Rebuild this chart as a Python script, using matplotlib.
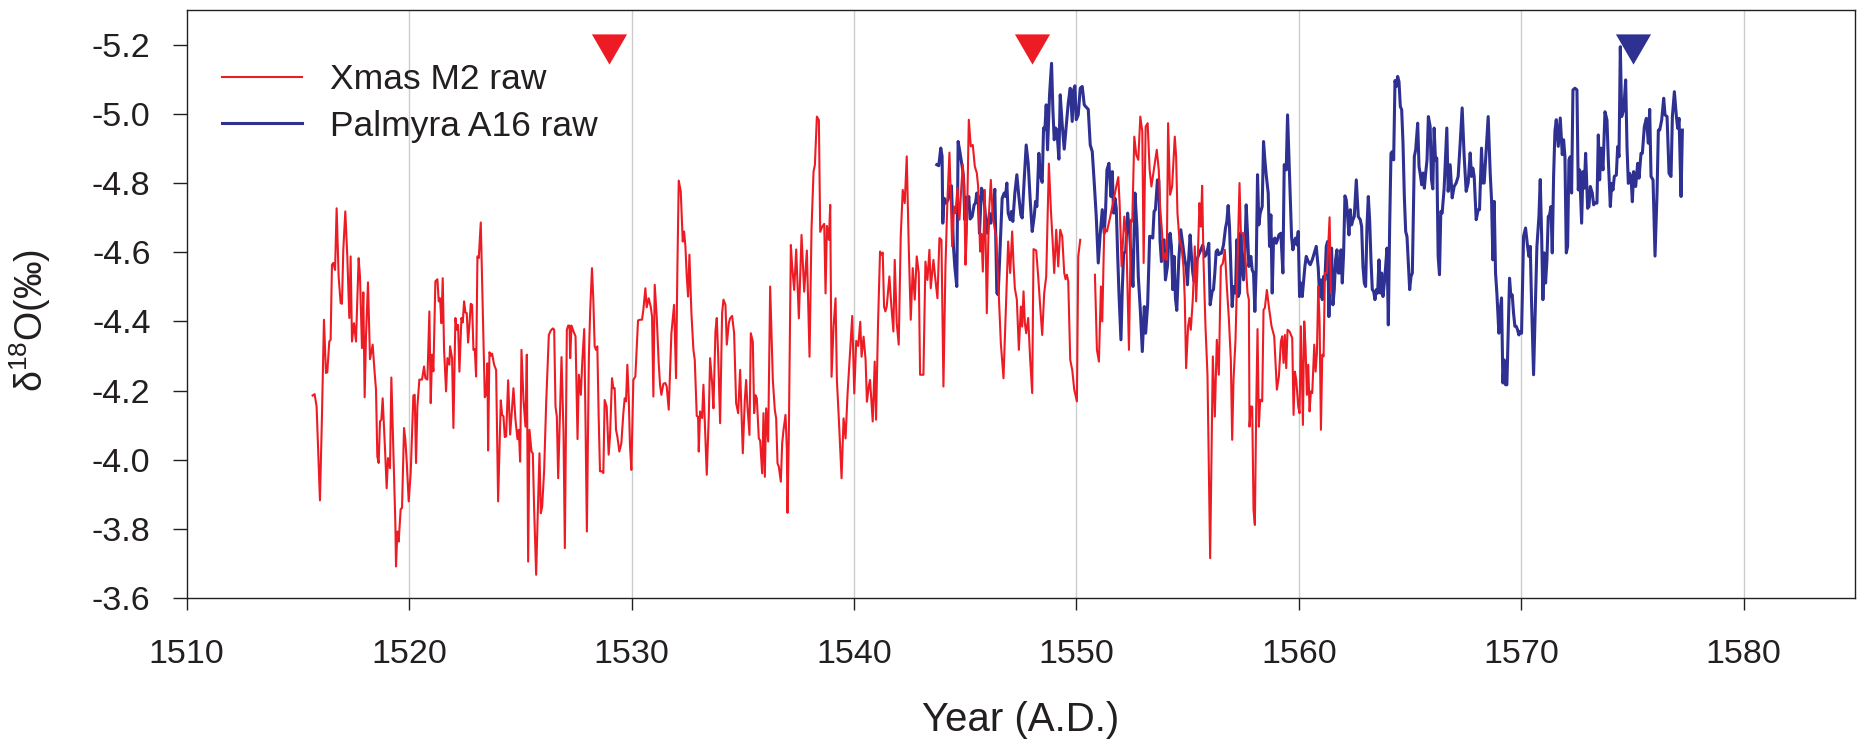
import numpy as np
import matplotlib
matplotlib.use("Agg")
import matplotlib.pyplot as plt
from matplotlib.lines import Line2D

# --- Xmas M2 raw d18O series (year A.D., per mil) ---
red_year = [
    1515.66, 1515.75, 1515.84, 1515.99, 1516.08, 1516.17, 1516.26, 1516.32, 1516.41, 1516.47,
    1516.53, 1516.59, 1516.67, 1516.74, 1516.83, 1516.92, 1516.98, 1517.04, 1517.13, 1517.22,
    1517.31, 1517.37, 1517.43, 1517.52, 1517.61, 1517.73, 1517.79, 1517.88, 1517.94, 1518.00,
    1518.06, 1518.15, 1518.24, 1518.36, 1518.45, 1518.51, 1518.57, 1518.63, 1518.69, 1518.75,
    1518.81, 1518.87, 1518.93, 1518.99, 1519.05, 1519.14, 1519.20, 1519.29, 1519.38, 1519.41,
    1519.47, 1519.53, 1519.62, 1519.68, 1519.77, 1519.83, 1519.89, 1519.98, 1520.07, 1520.19,
    1520.25, 1520.31, 1520.37, 1520.46, 1520.58, 1520.67, 1520.73, 1520.82, 1520.91, 1520.97,
    1521.03, 1521.09, 1521.18, 1521.27, 1521.33, 1521.39, 1521.45, 1521.51, 1521.57, 1521.66,
    1521.72, 1521.81,
    1521.84, 1521.93, 1521.99, 1522.08, 1522.14, 1522.20, 1522.26, 1522.35, 1522.41, 1522.47,
    1522.53, 1522.59, 1522.65, 1522.71, 1522.77, 1522.83, 1522.89, 1522.95, 1523.01, 1523.07,
    1523.13, 1523.22, 1523.31, 1523.40, 1523.46, 1523.52, 1523.55, 1523.61, 1523.67, 1523.73,
    1523.82, 1523.91, 1524.00, 1524.12, 1524.18, 1524.24, 1524.30, 1524.36, 1524.45, 1524.54,
    1524.69, 1524.78, 1524.87, 1524.93, 1524.99, 1525.05, 1525.14, 1525.23, 1525.29, 1525.35,
    1525.41, 1525.50, 1525.56, 1525.62, 1525.71, 1525.77, 1525.86, 1525.92, 1525.98, 1526.07,
    1526.16, 1526.28, 1526.37, 1526.46, 1526.52, 1526.58, 1526.64, 1526.70, 1526.85, 1526.94,
    1527.00, 1527.09, 1527.15, 1527.21, 1527.24, 1527.30, 1527.39, 1527.48, 1527.57, 1527.63,
    1527.72, 1527.78, 1527.87, 1527.93, 1527.99, 1528.08, 1528.14,
    1528.22, 1528.28, 1528.34, 1528.40, 1528.46, 1528.52, 1528.58, 1528.67, 1528.73, 1528.79,
    1528.88, 1528.97, 1529.03, 1529.12, 1529.18, 1529.24, 1529.30, 1529.36, 1529.45, 1529.54,
    1529.63, 1529.69, 1529.75, 1529.81, 1529.87, 1529.93, 1529.99, 1530.08, 1530.17, 1530.29,
    1530.38, 1530.47, 1530.53, 1530.62, 1530.68, 1530.77, 1530.86, 1530.92, 1530.98, 1531.04,
    1531.13, 1531.22, 1531.28, 1531.34, 1531.43, 1531.52, 1531.58, 1531.67, 1531.79, 1531.91,
    1532.00, 1532.06, 1532.12, 1532.21, 1532.30, 1532.36, 1532.42, 1532.48, 1532.54, 1532.60,
    1532.69, 1532.78, 1532.84, 1532.93, 1532.99, 1533.02, 1533.08, 1533.17, 1533.23, 1533.32,
    1533.38, 1533.47, 1533.53, 1533.62, 1533.68, 1533.77, 1533.83, 1533.89, 1533.98, 1534.07,
    1534.13, 1534.22, 1534.28, 1534.37,
    1534.43, 1534.52, 1534.61, 1534.70, 1534.79, 1534.88, 1535.00, 1535.09, 1535.15, 1535.21,
    1535.30, 1535.36, 1535.45, 1535.51, 1535.57, 1535.63, 1535.72, 1535.78, 1535.87, 1535.93,
    1535.99, 1536.05, 1536.14, 1536.23, 1536.35, 1536.44, 1536.50, 1536.56, 1536.62, 1536.71,
    1536.77, 1536.83, 1536.92, 1536.98, 1537.01, 1537.07, 1537.16, 1537.22, 1537.31, 1537.40,
    1537.52, 1537.64, 1537.76, 1537.88, 1538.00, 1538.09, 1538.18, 1538.24, 1538.33, 1538.42,
    1538.48, 1538.57, 1538.66, 1538.72, 1538.78, 1538.87, 1538.93, 1538.99, 1539.08, 1539.17,
    1539.23, 1539.32, 1539.44, 1539.53, 1539.62, 1539.71, 1539.83, 1539.92, 1540.01, 1540.10,
    1540.19, 1540.28, 1540.34, 1540.43, 1540.52, 1540.58, 1540.67,
    1540.72, 1540.84, 1540.93, 1540.99, 1541.08, 1541.17, 1541.23, 1541.29, 1541.35, 1541.41,
    1541.47, 1541.59, 1541.68, 1541.77, 1541.83, 1541.92, 1542.01, 1542.10, 1542.19, 1542.28,
    1542.37, 1542.46, 1542.55, 1542.64, 1542.73, 1542.82, 1542.91, 1542.97, 1543.12, 1543.21,
    1543.30, 1543.39, 1543.45, 1543.57, 1543.66, 1543.75, 1543.84, 1543.93, 1544.02, 1544.11,
    1544.20, 1544.29, 1544.35, 1544.41, 1544.50, 1544.56, 1544.65, 1544.74, 1544.83, 1544.89,
    1544.95, 1545.01, 1545.07, 1545.16, 1545.25, 1545.34, 1545.43, 1545.52, 1545.58, 1545.67,
    1545.73, 1545.79, 1545.88, 1545.97, 1546.06, 1546.15, 1546.24, 1546.33, 1546.39, 1546.48,
    1546.60, 1546.72, 1546.81, 1546.93,
    1547.02, 1547.11, 1547.17, 1547.23, 1547.32, 1547.41, 1547.50, 1547.56, 1547.62, 1547.68,
    1547.74, 1547.83, 1547.92, 1548.01, 1548.07, 1548.19, 1548.28, 1548.37, 1548.46, 1548.55,
    1548.64, 1548.76, 1548.85, 1548.94, 1549.00, 1549.09, 1549.18, 1549.27, 1549.36, 1549.45,
    1549.51, 1549.57, 1549.63, 1549.72, 1549.81, 1549.90, 1550.02, 1550.08, 1550.17, 1550.50,
    1550.83, 1550.92, 1551.01, 1551.10, 1551.16, 1551.25, 1551.37, 1551.52, 1551.67, 1551.79,
    1551.88, 1551.94, 1552.03, 1552.15, 1552.24, 1552.36, 1552.45, 1552.51, 1552.60, 1552.69,
    1552.78, 1552.87, 1552.96, 1553.02, 1553.11, 1553.20, 1553.29,
    1553.37, 1553.61, 1553.70, 1553.76, 1553.85, 1553.91, 1554.00, 1554.06, 1554.12, 1554.21,
    1554.30, 1554.42, 1554.48, 1554.54, 1554.63, 1554.72, 1554.81, 1554.87, 1554.93, 1555.02,
    1555.08, 1555.14, 1555.23, 1555.32, 1555.38, 1555.44, 1555.53, 1555.59, 1555.65, 1555.71,
    1555.80, 1555.89, 1556.01, 1556.07, 1556.13, 1556.22, 1556.31, 1556.40, 1556.49, 1556.58,
    1556.67, 1556.76, 1556.85, 1556.94, 1557.00, 1557.06, 1557.15, 1557.24, 1557.33, 1557.39,
    1557.51, 1557.60, 1557.69, 1557.75, 1557.78, 1557.84, 1557.90, 1557.96, 1558.02, 1558.08,
    1558.14, 1558.20, 1558.26, 1558.35, 1558.41, 1558.47, 1558.56, 1558.65, 1558.77, 1558.89,
    1559.01, 1559.10, 1559.19, 1559.25, 1559.31, 1559.37, 1559.43, 1559.49, 1559.58,
    1559.70, 1559.76, 1559.82, 1559.88, 1559.97, 1560.03, 1560.09, 1560.18, 1560.24, 1560.30,
    1560.36, 1560.42, 1560.48, 1560.54, 1560.60, 1560.69, 1560.75, 1560.81, 1560.87, 1560.93,
    1560.99, 1561.05, 1561.11, 1561.17, 1561.26, 1561.38, 1561.44,
]
red_d18o = [
    -4.186, -4.190, -4.154, -3.883, -4.125, -4.405, -4.251, -4.253, -4.342, -4.347,
    -4.564, -4.569, -4.549, -4.727, -4.530, -4.453, -4.451, -4.607, -4.718, -4.588,
    -4.410, -4.588, -4.342, -4.395, -4.342, -4.583, -4.530, -4.323, -4.484, -4.181,
    -4.357, -4.513, -4.291, -4.333, -4.251, -4.203, -4.010, -3.991, -4.111, -4.116,
    -4.178, -4.096, -4.010, -3.918, -4.005, -3.976, -4.238, -4.029, -3.817, -3.692,
    -3.793, -3.764, -3.858, -3.861, -4.092, -4.058, -3.996, -3.880, -3.962, -4.186,
    -4.188, -3.991, -4.154, -4.232, -4.232, -4.270, -4.236, -4.232, -4.429, -4.164,
    -4.304, -4.256, -4.516, -4.522, -4.458, -4.467, -4.395, -4.525, -4.318, -4.198,
    -4.294, -4.275,
    -4.328, -4.294, -4.092, -4.410, -4.376, -4.390, -4.255, -4.410, -4.397, -4.458,
    -4.426, -4.424, -4.339, -4.390, -4.451, -4.448, -4.318, -4.320, -4.241, -4.588,
    -4.583, -4.686, -4.434, -4.181, -4.188, -4.279, -4.027, -4.311, -4.301, -4.307,
    -4.275, -4.260, -3.880, -4.172, -4.130, -4.126, -4.066, -4.068, -4.230, -4.073,
    -4.207, -4.116, -4.060, -4.087, -3.995, -4.318, -4.173, -4.096, -4.304, -3.706,
    -4.087, -4.024, -4.019, -3.856, -3.668, -3.817, -4.019, -3.846, -3.865, -3.971,
    -4.164, -4.361, -4.374, -4.380, -4.376, -4.154, -4.125, -3.947, -4.297, -4.077,
    -3.745, -4.376, -4.388, -4.388, -4.294, -4.388, -4.371, -4.357, -4.060, -4.246,
    -4.188, -4.280, -4.378, -4.106, -3.793, -4.299, -4.434,
    -4.554, -4.463, -4.328, -4.318, -4.328, -4.125, -3.967, -3.967, -3.962, -4.173,
    -4.154, -4.015, -4.068, -4.236, -4.207, -4.207, -4.087, -4.068, -4.024, -4.048,
    -4.135, -4.178, -4.169, -4.275, -4.183, -4.039, -3.971, -4.231, -4.241, -4.403,
    -4.405, -4.405, -4.434, -4.496, -4.441, -4.467, -4.443, -4.414, -4.183, -4.506,
    -4.414, -4.279, -4.217, -4.188, -4.220, -4.222, -4.212, -4.145, -4.366, -4.448,
    -4.236, -4.559, -4.807, -4.776, -4.631, -4.660, -4.617, -4.530, -4.472, -4.593,
    -4.424, -4.318, -4.289, -4.127, -4.125, -4.024, -4.140, -4.121, -4.217, -4.058,
    -3.957, -4.125, -4.294, -4.222, -4.149, -4.371, -4.410, -4.308, -4.106, -4.424,
    -4.463, -4.448, -4.333, -4.395,
    -4.409, -4.416, -4.366, -4.164, -4.135, -4.260, -4.019, -4.173, -4.231, -4.154,
    -4.072, -4.366, -4.342, -4.135, -4.187, -4.178, -4.062, -4.056, -3.961, -4.135,
    -3.951, -4.149, -4.053, -4.501, -4.231, -4.144, -4.120, -3.990, -3.980, -3.937,
    -4.048, -4.086, -4.130, -4.033, -3.847, -4.077, -4.621, -4.558, -4.491, -4.608,
    -4.409, -4.650, -4.486, -4.605, -4.298, -4.669, -4.833, -4.852, -4.992, -4.982,
    -4.659, -4.674, -4.682, -4.481, -4.676, -4.636, -4.737, -4.240, -4.385, -4.467,
    -4.231, -4.115, -3.947, -4.120, -4.062, -4.192, -4.322, -4.416, -4.192, -4.344,
    -4.329, -4.399, -4.298, -4.356, -4.289, -4.168, -4.216,
    -4.231, -4.111, -4.284, -4.116, -4.395, -4.602, -4.593, -4.599, -4.443, -4.429,
    -4.443, -4.530, -4.443, -4.371, -4.578, -4.395, -4.333, -4.646, -4.780, -4.742,
    -4.877, -4.617, -4.405, -4.554, -4.463, -4.588, -4.540, -4.246, -4.246, -4.573,
    -4.520, -4.607, -4.496, -4.578, -4.520, -4.467, -4.641, -4.636, -4.212, -4.559,
    -4.752, -4.888, -4.761, -4.617, -4.732, -4.713, -4.785, -4.694, -4.795, -4.853,
    -4.795, -4.564, -4.655, -4.983, -4.906, -4.910, -4.848, -4.829, -4.790, -4.602,
    -4.653, -4.544, -4.780, -4.424, -4.703, -4.809, -4.703, -4.665, -4.646, -4.520,
    -4.337, -4.236, -4.405, -4.631,
    -4.540, -4.660, -4.567, -4.496, -4.463, -4.318, -4.443, -4.385, -4.487, -4.395,
    -4.366, -4.410, -4.289, -4.193, -4.609, -4.605, -4.530, -4.443, -4.361, -4.482,
    -4.530, -4.856, -4.723, -4.617, -4.540, -4.665, -4.559, -4.665, -4.646, -4.540,
    -4.522, -4.535, -4.516, -4.289, -4.260, -4.203, -4.169, -4.588, -4.636, np.nan,
    -4.535, -4.318, -4.284, -4.501, -4.400, -4.670, -4.660, -4.703, -4.752, -4.790,
    -4.817, -4.742, -4.559, -4.703, -4.646, -4.318, -4.694, -4.689, -4.934, -4.881,
    -4.867, -4.992, -4.949, -4.569, -4.963, -4.973, -4.838,
    -4.790, -4.896, -4.838, -4.732, -4.655, -4.578, -4.597, -4.578, -4.973, -4.766,
    -4.790, -4.934, -4.877, -4.713, -4.636, -4.617, -4.559, -4.463, -4.265, -4.386,
    -4.410, -4.376, -4.463, -4.617, -4.458, -4.554, -4.742, -4.674, -4.792, -4.578,
    -4.386, -4.246, -3.716, -4.000, -4.299, -4.125, -4.347, -4.246, -4.559, -4.568,
    -4.607, -4.501, -4.410, -4.289, -4.058, -4.231, -4.347, -4.568, -4.800, -4.655,
    -4.655, -4.578, -4.482, -4.463, -4.096, -4.154, -4.154, -3.856, -3.812, -4.145,
    -4.378, -4.096, -4.174, -4.169, -4.434, -4.439, -4.491, -4.443, -4.386, -4.357,
    -4.203, -4.241, -4.342, -4.357, -4.280, -4.361, -4.265, -4.376, -4.371,
    -4.352, -4.130, -4.255, -4.231, -4.154, -4.135, -4.386, -4.101, -4.400, -4.323,
    -4.188, -4.275, -4.140, -4.198, -4.193, -4.333, -4.255, -4.309, -4.501, -4.400,
    -4.087, -4.304, -4.299, -4.540, -4.540, -4.701, -4.482,
]

# --- Palmyra A16 raw d18O series (year A.D., per mil) ---
blue_year = [
    1543.72, 1543.81, 1543.90, 1543.96, 1543.99, 1544.05, 1544.14, 1544.23, 1544.32, 1544.38,
    1544.47, 1544.53, 1544.62, 1544.68, 1544.77, 1544.86, 1544.92, 1544.98, 1545.04, 1545.10,
    1545.16, 1545.22, 1545.31, 1545.40, 1545.46, 1545.52, 1545.58, 1545.64, 1545.73, 1545.82,
    1545.91, 1546.00, 1546.09, 1546.15, 1546.24, 1546.33, 1546.42, 1546.48, 1546.57, 1546.66,
    1546.75, 1546.81, 1546.87, 1546.93,
    1547.02, 1547.08, 1547.14, 1547.23, 1547.32, 1547.41, 1547.50, 1547.56, 1547.65, 1547.74,
    1547.83, 1547.92, 1548.01, 1548.10, 1548.16, 1548.22, 1548.31, 1548.37, 1548.46, 1548.52,
    1548.58, 1548.64, 1548.70, 1548.79, 1548.88, 1548.94, 1549.00, 1549.06, 1549.12, 1549.21,
    1549.27, 1549.36, 1549.45, 1549.54, 1549.63, 1549.72, 1549.81, 1549.87, 1549.93, 1549.99,
    1550.08, 1550.17, 1550.26, 1550.35, 1550.44, 1550.53, 1550.62, 1550.71, 1550.80, 1550.89,
    1550.98, 1551.07, 1551.16, 1551.25, 1551.31, 1551.37, 1551.46, 1551.55, 1551.61, 1551.67,
    1551.73, 1551.79, 1551.85, 1551.91, 1552.00, 1552.06, 1552.12, 1552.21, 1552.30, 1552.39,
    1552.48, 1552.54, 1552.63, 1552.72, 1552.78, 1552.87, 1552.96, 1553.05, 1553.11, 1553.20,
    1553.29,
    1553.37, 1553.43, 1553.49, 1553.55, 1553.64, 1553.70, 1553.76, 1553.82, 1553.88, 1553.94,
    1554.00, 1554.09, 1554.15, 1554.21, 1554.27, 1554.33, 1554.39, 1554.45, 1554.51, 1554.60,
    1554.69, 1554.78, 1554.87, 1554.93, 1554.99, 1555.05, 1555.11, 1555.17, 1555.23, 1555.29,
    1555.35, 1555.41, 1555.50, 1555.59, 1555.68, 1555.77, 1555.86, 1555.95, 1556.01, 1556.10,
    1556.16, 1556.22, 1556.28, 1556.34, 1556.40, 1556.46, 1556.52, 1556.61, 1556.70, 1556.76,
    1556.82, 1556.88, 1556.94, 1557.00, 1557.06, 1557.15, 1557.21, 1557.27, 1557.33, 1557.39,
    1557.45, 1557.51, 1557.57, 1557.63, 1557.69, 1557.75, 1557.84, 1557.90, 1557.96, 1558.02,
    1558.08, 1558.14, 1558.20, 1558.26, 1558.35, 1558.41, 1558.47, 1558.53, 1558.62, 1558.68,
    1558.74, 1558.80, 1558.86, 1558.92, 1558.98, 1559.04, 1559.10, 1559.19, 1559.28, 1559.34,
    1559.43, 1559.49,
    1559.67, 1559.73, 1559.79, 1559.85, 1559.91, 1559.97, 1560.03, 1560.09, 1560.15, 1560.21,
    1560.27, 1560.33, 1560.39, 1560.45, 1560.51, 1560.60, 1560.69, 1560.78, 1560.87, 1560.93,
    1560.99, 1561.05, 1561.11, 1561.17, 1561.23, 1561.29, 1561.35, 1561.41, 1561.47, 1561.53,
    1561.59, 1561.65, 1561.71, 1561.77, 1561.83, 1561.89, 1561.95, 1562.01, 1562.07, 1562.13,
    1562.19, 1562.25, 1562.31, 1562.37, 1562.43, 1562.49, 1562.58, 1562.67, 1562.76, 1562.82,
    1562.88, 1562.94, 1563.00, 1563.06, 1563.12, 1563.18, 1563.24, 1563.30, 1563.36, 1563.42,
    1563.48, 1563.54, 1563.60, 1563.66, 1563.72, 1563.78, 1563.84, 1563.90, 1563.96, 1564.02,
    1564.08, 1564.14, 1564.20, 1564.26, 1564.32, 1564.38, 1564.44, 1564.50, 1564.56, 1564.62,
    1564.68, 1564.74, 1564.80, 1564.86, 1564.92, 1564.98, 1565.04, 1565.10, 1565.19, 1565.25,
    1565.34, 1565.40, 1565.46, 1565.52, 1565.58, 1565.64, 1565.70, 1565.76, 1565.82,
    1565.90, 1565.96, 1566.02, 1566.08, 1566.14, 1566.20, 1566.26, 1566.32, 1566.38, 1566.44,
    1566.53, 1566.65, 1566.71, 1566.80, 1566.89, 1566.98, 1567.07, 1567.16, 1567.25, 1567.34,
    1567.43, 1567.52, 1567.61, 1567.70, 1567.76, 1567.82, 1567.88, 1567.97, 1568.06, 1568.12,
    1568.21, 1568.27, 1568.33, 1568.42, 1568.51, 1568.60, 1568.66, 1568.72, 1568.78, 1568.84,
    1568.90, 1568.99, 1569.05, 1569.11, 1569.17, 1569.23, 1569.29, 1569.35, 1569.41, 1569.47,
    1569.53, 1569.59, 1569.65, 1569.71, 1569.77, 1569.83, 1569.89, 1569.95, 1570.01, 1570.10,
    1570.19, 1570.28, 1570.34, 1570.40, 1570.46, 1570.55, 1570.64, 1570.70, 1570.79, 1570.85,
    1570.91, 1570.97, 1571.03, 1571.09, 1571.15, 1571.21, 1571.27, 1571.33, 1571.39, 1571.45,
    1571.51, 1571.57, 1571.66, 1571.75, 1571.84, 1571.90, 1571.96, 1572.02, 1572.08, 1572.14,
    1572.20, 1572.26, 1572.32, 1572.41, 1572.50, 1572.56, 1572.62, 1572.71, 1572.77, 1572.83,
    1572.89, 1572.98, 1573.04, 1573.10, 1573.19, 1573.25, 1573.31, 1573.40, 1573.46, 1573.52,
    1573.58, 1573.67, 1573.76, 1573.85, 1573.91, 1574.00, 1574.06, 1574.12, 1574.18, 1574.27,
    1574.33, 1574.39, 1574.45, 1574.51, 1574.60, 1574.69, 1574.75, 1574.81, 1574.87, 1574.93,
    1574.99, 1575.05, 1575.14, 1575.23, 1575.29, 1575.38, 1575.44, 1575.53, 1575.62, 1575.71,
    1575.77, 1575.83, 1575.92, 1576.01, 1576.10, 1576.16, 1576.22, 1576.31, 1576.40, 1576.46,
    1576.55, 1576.64, 1576.73, 1576.79, 1576.88, 1576.97, 1577.03, 1577.09, 1577.18, 1577.24,
]
blue_d18o = [
    -4.853, -4.850, -4.901, -4.877, -4.684, -4.756, -4.742, -4.752, -4.790, -4.792,
    -4.617, -4.559, -4.501, -4.920, -4.886, -4.848, -4.819, -4.694, -4.759, -4.742,
    -4.761, -4.696, -4.703, -4.737, -4.742, -4.771, -4.761, -4.655, -4.785, -4.771,
    -4.703, -4.655, -4.713, -4.684, -4.713, -4.782, -4.482, -4.477, -4.617, -4.756,
    -4.771, -4.761, -4.800, -4.713,
    -4.694, -4.718, -4.689, -4.771, -4.824, -4.761, -4.708, -4.699, -4.809, -4.910,
    -4.857, -4.752, -4.660, -4.703, -4.747, -4.732, -4.886, -4.824, -4.802, -4.959,
    -4.954, -5.026, -4.896, -5.055, -5.146, -5.012, -4.925, -4.959, -4.954, -4.869,
    -5.055, -4.968, -4.898, -4.963, -5.031, -5.074, -4.978, -5.069, -5.081, -4.983,
    -4.997, -5.074, -5.079, -5.026, -5.019, -5.013, -4.910, -4.891, -4.800, -4.703,
    -4.569, -4.655, -4.723, -4.655, -4.723, -4.838, -4.857, -4.761, -4.833, -4.713,
    -4.756, -4.727, -4.597, -4.482, -4.347, -4.492, -4.597, -4.602, -4.713, -4.655,
    -4.559, -4.501, -4.771, -4.670, -4.530, -4.434, -4.313, -4.443, -4.366, -4.448,
    -4.646,
    -4.645, -4.641, -4.718, -4.723, -4.809, -4.809, -4.631, -4.573, -4.631, -4.636,
    -4.520, -4.559, -4.636, -4.655, -4.617, -4.492, -4.588, -4.467, -4.432, -4.578,
    -4.665, -4.621, -4.578, -4.559, -4.506, -4.588, -4.650, -4.588, -4.540, -4.516,
    -4.540, -4.578, -4.593, -4.607, -4.621, -4.588, -4.597, -4.626, -4.448, -4.487,
    -4.492, -4.540, -4.602, -4.607, -4.593, -4.597, -4.597, -4.621, -4.670, -4.689,
    -4.735, -4.674, -4.559, -4.443, -4.501, -4.482, -4.636, -4.472, -4.482, -4.657,
    -4.559, -4.520, -4.597, -4.737, -4.655, -4.559, -4.588, -4.549, -4.540, -4.429,
    -4.554, -4.824, -4.679, -4.713, -4.732, -4.920, -4.867, -4.824, -4.771, -4.617,
    -4.708, -4.482, -4.636, -4.641, -4.626, -4.636, -4.650, -4.655, -4.540, -4.853,
    -4.838, -4.997,
    -4.645, -4.607, -4.631, -4.641, -4.621, -4.660, -4.472, -4.511, -4.472, -4.516,
    -4.559, -4.588, -4.578, -4.569, -4.564, -4.578, -4.597, -4.617, -4.554, -4.472,
    -4.520, -4.463, -4.530, -4.520, -4.617, -4.631, -4.414, -4.578, -4.612, -4.448,
    -4.492, -4.578, -4.607, -4.540, -4.540, -4.607, -4.511, -4.597, -4.763, -4.751,
    -4.703, -4.650, -4.723, -4.679, -4.694, -4.703, -4.809, -4.703, -4.694, -4.674,
    -4.559, -4.511, -4.501, -4.674, -4.761, -4.694, -4.578, -4.492, -4.487, -4.463,
    -4.492, -4.482, -4.578, -4.482, -4.540, -4.472, -4.511, -4.559, -4.612, -4.390,
    -4.674, -4.886, -4.891, -4.867, -5.096, -5.079, -5.108, -5.093, -5.021, -5.012,
    -4.915, -4.761, -4.660, -4.645, -4.569, -4.492, -4.530, -4.540, -4.877, -4.896,
    -4.973, -4.848, -4.824, -4.795, -4.829, -4.785, -4.829, -4.867, -4.992,
    -4.964, -4.810, -4.783, -4.959, -4.867, -4.872, -4.588, -4.535, -4.718, -4.713,
    -4.785, -4.959, -4.776, -4.853, -4.757, -4.790, -4.800, -4.819, -4.915, -5.017,
    -4.877, -4.776, -4.800, -4.887, -4.819, -4.843, -4.819, -4.694, -4.723, -4.723,
    -4.901, -4.800, -4.800, -4.896, -4.992, -4.829, -4.752, -4.578, -4.747, -4.540,
    -4.482, -4.366, -4.434, -4.468, -4.222, -4.289, -4.217, -4.217, -4.366, -4.525,
    -4.472, -4.477, -4.424, -4.386, -4.386, -4.376, -4.361, -4.371, -4.366, -4.646,
    -4.670, -4.617, -4.588, -4.617, -4.453, -4.246, -4.472, -4.617, -4.703, -4.810,
    -4.655, -4.463, -4.598, -4.511, -4.578, -4.703, -4.708, -4.732, -4.598, -4.819,
    -4.949, -4.983, -4.906, -4.988, -4.882, -4.925, -4.877, -4.598, -4.617, -4.867,
    -4.876, -4.771, -5.069, -5.074, -5.069, -4.780, -4.838, -4.684, -4.833, -4.785,
    -4.886, -4.727, -4.732, -4.790, -4.771, -4.737, -4.742, -4.742, -4.939, -4.809,
    -4.901, -4.838, -5.006, -4.982, -4.867, -4.732, -4.799, -4.780, -4.819, -4.823,
    -4.905, -4.876, -5.194, -4.992, -5.011, -5.098, -4.905, -4.799, -4.828, -4.819,
    -4.746, -4.833, -4.790, -4.857, -4.814, -4.886, -4.886, -4.963, -4.987, -4.915,
    -5.013, -4.819, -4.809, -4.589, -4.770, -4.953, -4.953, -4.982, -5.045, -4.997,
    -4.992, -4.828, -4.819, -4.992, -5.064, -4.992, -4.958, -4.987, -4.761, -4.953,
]

# Event markers along the top of the panel
red_marker_year = [1529.0, 1548.0]
blue_marker_year = [1575.0]
marker_level = -5.188

series_labels = ["Xmas M2 raw", "Palmyra A16 raw"]
x_ticks = [1510, 1520, 1530, 1540, 1550, 1560, 1570, 1580]
y_ticks = [-5.2, -5.0, -4.8, -4.6, -4.4, -4.2, -4.0, -3.8, -3.6]

RED = "#ED1C24"
BLUE = "#2E3192"
INK = "#231F20"

plt.rcParams["font.family"] = ["Liberation Sans", "DejaVu Sans"]
plt.rcParams["mathtext.fontset"] = "custom"
plt.rcParams["mathtext.rm"] = "Liberation Sans"
plt.rcParams["mathtext.it"] = "Liberation Sans:italic"

fig = plt.figure(figsize=(18.62, 7.41), dpi=100)
ax = fig.add_axes([0.10027, 0.19258, 0.89597, 0.79392])

for xv in x_ticks[1:]:
    ax.axvline(xv, color="#CCCCCC", lw=1.0, zorder=0)

ax.plot(red_year, red_d18o, color=RED, lw=1.5, zorder=3, solid_joinstyle="round")
ax.plot(blue_year, blue_d18o, color=BLUE, lw=2.2, zorder=2, solid_joinstyle="round")

# downward-pointing triangle, slightly wider than tall
tri = [(-1.0, 0.86), (1.0, 0.86), (0.0, -0.86)]
ax.plot(red_marker_year, [marker_level] * len(red_marker_year), ls="none",
        marker=tri, ms=25.3, color=RED, mec="none", zorder=4)
ax.plot(blue_marker_year, [marker_level] * len(blue_marker_year), ls="none",
        marker=tri, ms=25.3, color=BLUE, mec="none", zorder=4)

ax.set_xlim(1510, 1585)
ax.set_ylim(-3.6, -5.3)
ax.set_xticks(x_ticks)
ax.set_yticks(y_ticks)
ax.set_yticklabels([f"{v:.1f}" for v in y_ticks])

for sp in ax.spines.values():
    sp.set_color(INK)
    sp.set_linewidth(1.0)

ax.tick_params(axis="both", colors=INK, labelcolor=INK, direction="out",
               width=1.0, labelsize=24.5)
ax.tick_params(axis="y", length=10, pad=16)
ax.tick_params(axis="x", length=8.5, pad=21)

ax.set_xlabel("Year (A.D.)", fontsize=29, color=INK, va="center")
ax.xaxis.set_label_coords(0.5, -0.2075)
ax.set_ylabel(r"δ$^{18}$O(‰)", fontsize=27, color=INK, va="center", ha="center")
ax.yaxis.set_label_coords(-0.0936, 0.472)

handles = [Line2D([], [], color=RED, lw=1.5), Line2D([], [], color=BLUE, lw=2.2)]
ax.legend(handles, series_labels, loc="upper left", bbox_to_anchor=(0.0212, 0.9093),
          frameon=False, fontsize=25.5, handlelength=2.26, handletextpad=0.78,
          labelspacing=0.38, borderpad=0, borderaxespad=0, labelcolor=INK)

fig.savefig("out.png", dpi=100)
